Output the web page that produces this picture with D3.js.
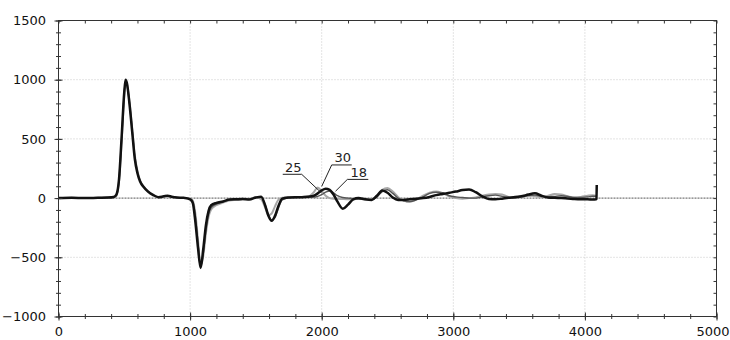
<!DOCTYPE html>
<html>
<head>
<meta charset="utf-8">
<script src="https://cdn.jsdelivr.net/npm/d3@7"></script>
<style>
  html, body { margin: 0; padding: 0; background: #fff; }
  svg { display: block; font-family: 'DejaVu Sans', sans-serif; }
</style>
</head>
<body>
<div class="viz"></div>
<script>
// shared sample positions along the horizontal axis
const xs = [
  0, 100, 200, 300, 380, 420, 440, 460, 480, 500,
  510, 520, 540, 560, 580, 600, 620, 650, 680, 720,
  760, 800, 830, 860, 900, 950, 1000, 1020, 1040, 1060,
  1080, 1100, 1120, 1140, 1160, 1200, 1250, 1300, 1350, 1400,
  1450, 1500, 1540, 1570, 1595, 1620, 1645, 1670, 1700, 1750,
  1800, 1850, 1900, 1940, 1970, 2000, 2030, 2060, 2090, 2120,
  2160, 2200, 2240, 2280, 2330, 2380, 2420, 2460, 2500, 2540,
  2580, 2620, 2670, 2720, 2770, 2820, 2870, 2920, 2970, 3020,
  3070, 3120, 3170, 3220, 3270, 3320, 3370, 3420, 3470, 3520,
  3570, 3620, 3670, 3720, 3770, 3820, 3870, 3920, 3970, 4020,
  4060, 4085, 4088, 4090,
];

// values of the three curves, one per sample position
const series18 = [
  0, 2, 0, 3, 5, 10, 30, 160, 520, 900,
  1000, 970, 790, 560, 330, 210, 140, 90, 55, 25,
  8, 15, 20, 12, 5, 2, -10, -40, -200, -420,
  -590, -430, -230, -110, -60, -40, -28, -12, -10, -8,
  -12, 5, 12, -60, -150, -192, -150, -70, -5, 5,
  8, 8, 12, 20, 40, 65, 80, 70, 30, -30,
  -90, -55, -10, 0, -10, -15, 20, 65, 45, 5,
  -15, -15, -10, -5, 0, 10, 25, 35, 45, 55,
  68, 72, 50, 15, -8, -10, -5, 2, 10, 15,
  30, 40, 20, 5, 2, 0, -3, -8, -10, -10,
  -12, -10, -8, 110,
];
const series25 = [
  0, 2, 0, 3, 5, 8, 25, 150, 500, 890,
  990, 960, 800, 575, 345, 220, 145, 92, 58, 28,
  10, 15, 18, 10, 4, 0, -5, -25, -150, -380,
  -580, -470, -280, -140, -80, -50, -32, -15, -12, -10,
  -10, 5, 10, -55, -140, -185, -165, -90, -15, 3,
  5, 8, 8, 8, 15, 30, 50, 60, 45, 20,
  5, 0, -5, -8, -12, -15, 10, 55, 70, 40,
  0, -20, -30, -15, 10, 40, 50, 45, 20, 10,
  5, 0, 0, 10, 20, 25, 15, 5, 0, 10,
  20, 25, 15, 10, 15, 20, 15, 5, 5, 10,
  15, 15, 15, 15,
];
const series30 = [
  0, 2, 0, 3, 5, 8, 20, 140, 480, 870,
  985, 965, 810, 590, 360, 230, 150, 95, 60, 30,
  10, 12, 15, 10, 4, 0, -3, -20, -130, -350,
  -570, -490, -300, -160, -95, -60, -38, -20, -15, -10,
  -8, 8, -10, -80, -145, -130, -70, -15, 3, 5,
  8, 10, 15, 50, 90, 60, 20, 0, -5, -5,
  -8, -10, -10, -5, -10, -10, 20, 70, 85, 55,
  10, -20, -30, -10, 20, 45, 55, 40, 15, 0,
  -5, 0, 5, 20, 30, 35, 30, 10, 5, 20,
  25, 15, 10, 20, 35, 30, 15, 5, 10, 20,
  25, 20, 20, 20,
];

// tick values
const xMajor = [0, 1000, 2000, 3000, 4000, 5000];
const yMajor = [-1000, -500, 0, 500, 1000, 1500];
const xMinor = d3.range(0, 5001, 200);
const yMinor = d3.range(-1000, 1501, 100);

// labels pointing at the curves, in data units
const labelText = ['25', '30', '18'];
const labelX0 = [1704, 2076, 2195];
const labelX1 = [1848, 2228, 2354];
const labelY = [201, 280, 158];
const pointX = [2000, 2000, 2105];
const pointY = [42, 99, 58];
const leaderFrom = ['end', 'start', 'start'];

const widthTotal = 730;
const heightTotal = 340;
const margin = { top: 20.5, right: 13.5, bottom: 23.5, left: 58.5 };
const width = widthTotal - margin.left - margin.right;
const height = heightTotal - margin.top - margin.bottom;

const svg = d3.select('.viz')
  .append('svg')
  .attr('width', widthTotal)
  .attr('height', heightTotal);

const group = svg.append('g')
  .attr('transform', `translate(${margin.left} ${margin.top})`);

const xScale = d3.scaleLinear().domain([0, 5000]).range([0, width]);
const yScale = d3.scaleLinear().domain([-1000, 1500]).range([height, 0]);

// dotted grid lines
group.append('g')
  .selectAll('line')
  .data(xMajor.slice(1, -1))
  .join('line')
  .attr('x1', d => xScale(d))
  .attr('x2', d => xScale(d))
  .attr('y1', 0)
  .attr('y2', height)
  .attr('stroke', '#c8c8c8')
  .attr('stroke-dasharray', '1,2');

group.append('g')
  .selectAll('line')
  .data([-500, 500, 1000])
  .join('line')
  .attr('x1', 0)
  .attr('x2', width)
  .attr('y1', d => yScale(d))
  .attr('y2', d => yScale(d))
  .attr('stroke', '#c8c8c8')
  .attr('stroke-dasharray', '1,2');

// zero line, darker
group.append('line')
  .attr('x1', 0)
  .attr('x2', width)
  .attr('y1', yScale(0))
  .attr('y2', yScale(0))
  .attr('stroke', '#555')
  .attr('stroke-dasharray', '2,1');

// curves
const points = values => xs.map((x, i) => [x, values[i]]);
const line = d3.line()
  .x(d => xScale(d[0]))
  .y(d => yScale(d[1]))
  .curve(d3.curveMonotoneX);

const curves = [
  { values: series30, color: '#a8a8a8', size: 2 },
  { values: series25, color: '#555', size: 1.4 },
  { values: series18, color: '#111', size: 2.5 },
];

group.append('g')
  .selectAll('path')
  .data(curves)
  .join('path')
  .attr('d', d => line(points(d.values)))
  .attr('fill', 'none')
  .attr('stroke', d => d.color)
  .attr('stroke-width', d => d.size)
  .attr('stroke-linejoin', 'round');

// labels with underline and leader line
const labels = group.append('g')
  .selectAll('g')
  .data(labelText)
  .join('g');

labels.append('line')
  .attr('x1', (d, i) => xScale(labelX0[i]))
  .attr('x2', (d, i) => xScale(labelX1[i]))
  .attr('y1', (d, i) => yScale(labelY[i]))
  .attr('y2', (d, i) => yScale(labelY[i]))
  .attr('stroke', '#222');

labels.append('line')
  .attr('x1', (d, i) => xScale(leaderFrom[i] === 'end' ? labelX1[i] : labelX0[i]))
  .attr('y1', (d, i) => yScale(labelY[i]))
  .attr('x2', (d, i) => xScale(pointX[i]))
  .attr('y2', (d, i) => yScale(pointY[i]))
  .attr('stroke', '#222');

labels.append('text')
  .attr('x', (d, i) => (xScale(labelX0[i]) + xScale(labelX1[i])) / 2 + 1)
  .attr('y', (d, i) => yScale(labelY[i]) - 2.5)
  .attr('text-anchor', 'middle')
  .attr('font-size', 13)
  .attr('fill', '#222')
  .text(d => d);

// frame
group.append('rect')
  .attr('width', width)
  .attr('height', height)
  .attr('fill', 'none')
  .attr('stroke', '#333');

// axes: minor ticks then major ticks with labels
const addAxis = (axis, transform, cls) => group.append('g')
  .attr('class', `axis ${cls}`)
  .attr('transform', transform)
  .call(axis);

addAxis(d3.axisLeft(yScale).tickValues(yMinor).tickFormat(''), 'translate(0 0)', 'y-minor');
addAxis(d3.axisLeft(yScale).tickValues(yMajor).tickFormat(d3.format('d')), 'translate(0 0)', 'y-major');
addAxis(d3.axisBottom(xScale).tickValues(xMinor).tickFormat(''), `translate(0 ${height})`, 'x-minor');
addAxis(d3.axisBottom(xScale).tickValues(xMajor).tickFormat(d3.format('d')), `translate(0 ${height})`, 'x-major');
addAxis(d3.axisTop(xScale).tickValues(xMinor).tickFormat('').tickSize(-3), 'translate(0 0)', 'top');
addAxis(d3.axisRight(yScale).tickValues(yMinor).tickFormat('').tickSize(-3), `translate(${width} 0)`, 'right');

d3.selectAll('.axis path.domain').remove();
d3.selectAll('.axis line').attr('stroke', '#333');

// ticks crossing the left and bottom edges
d3.selectAll('.y-minor line').attr('x1', -2.5).attr('x2', 2.5);
d3.selectAll('.y-major line').attr('x1', -4).attr('x2', 4);
d3.selectAll('.x-minor line').attr('y1', -2.5).attr('y2', 2.5);
d3.selectAll('.x-major line').attr('y1', -4).attr('y2', 4);

d3.selectAll('.y-major text')
  .attr('x', -12.5)
  .attr('font-size', 13)
  .attr('font-family', "'DejaVu Sans', sans-serif")
  .attr('fill', '#111');

d3.selectAll('.x-major text')
  .attr('y', 10)
  .attr('font-size', 13)
  .attr('font-family', "'DejaVu Sans', sans-serif")
  .attr('fill', '#111');

// the last label sits against the right edge of the picture
d3.selectAll('.x-major .tick')
  .filter(d => d === 5000)
  .select('text')
  .attr('text-anchor', 'end')
  .attr('x', margin.right - 1);
</script>
</body>
</html>
